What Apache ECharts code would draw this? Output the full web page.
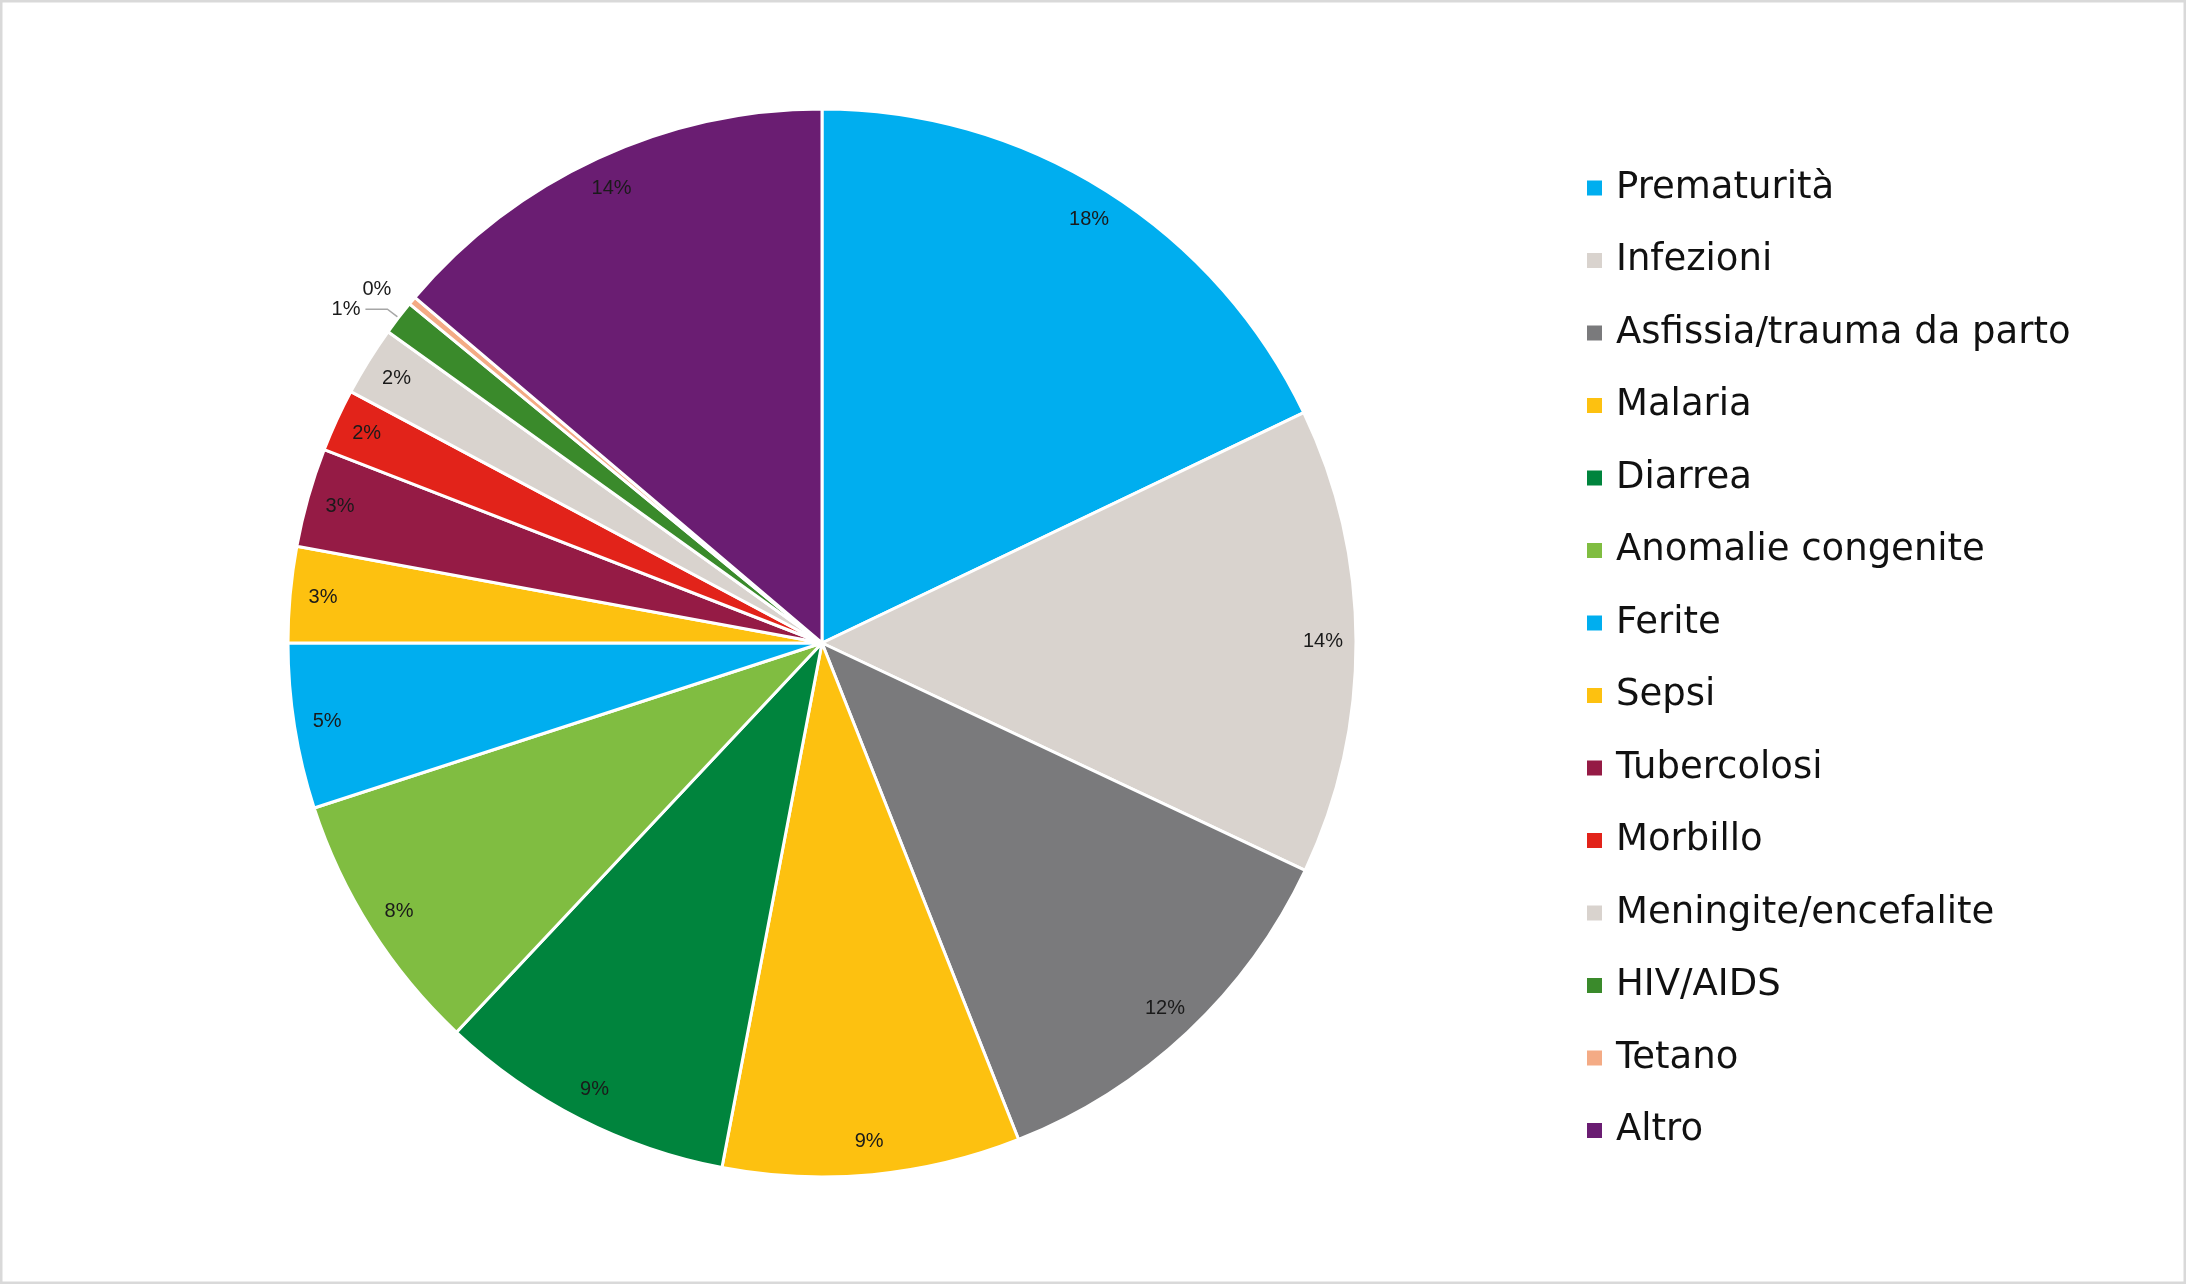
<!DOCTYPE html>
<html>
<head>
<meta charset="utf-8">
<script src="https://cdn.jsdelivr.net/npm/echarts@6/dist/echarts.min.js"></script>
<style>
html,body{margin:0;padding:0;background:#fff;}
#c{width:2186px;height:1284px;}
</style>
</head>
<body>
<div id="c"></div>
<script>
const categories = ['Prematurità','Infezioni','Asfissia/trauma da parto','Malaria','Diarrea','Anomalie congenite','Ferite','Sepsi','Tubercolosi','Morbillo','Meningite/encefalite','HIV/AIDS','Tetano','Altro'];
const values = [17.9, 14.1, 12.0, 9.0, 9.0, 8.0, 5.0, 2.9, 3.0, 1.9, 2.1, 1.05, 0.25, 13.8];
const colors = ['#00aeef','#d9d3ce','#7a7a7c','#fdc110','#00843d','#80bd41','#00aeef','#fdc110','#951b45','#e2231a','#d9d3ce','#3a8a2b','#f4ab85','#6a1d72'];

const chart = echarts.init(document.getElementById('c'), null, {renderer:'canvas'});
const FONT = '"Liberation Sans", Arial, sans-serif';
const LEGEND_FONT = '"DejaVu Sans", sans-serif';
const center = [822, 643];

const pieData = categories.map((n,i)=>({name:n, value:values[i], itemStyle:{color:colors[i]}}));
const labelData = categories.map((n,i)=>{
  const d = {name:n, value:values[i]};
  if (n === 'HIV/AIDS') {
    d.label = {position:'outside', distance:4};
    d.labelLine = {show:true, length:14, length2:22, lineStyle:{color:'#a6a6a6', width:1.5}};
  } else if (n === 'Tetano') {
    d.label = {position:'outside', distance:4};
    d.labelLine = {show:true, length:18, length2:2, lineStyle:{color:'rgba(0,0,0,0)'}};
  }
  return d;
});

chart.setOption({
  animation:false,
  backgroundColor:'#fff',
  graphic:[{type:'rect', shape:{x:1,y:1,width:2184,height:1282}, style:{fill:null, stroke:'#d9d9d9', lineWidth:3}, silent:true}],
  legend:{
    orient:'vertical',
    left:1580,
    top:163,
    itemWidth:17,
    itemHeight:17,
    itemGap:32.5,
    icon:'rect',
    selectedMode:false,
    textStyle:{fontFamily:LEGEND_FONT, fontSize:37, lineHeight:40, color:'#111', padding:[0,0,0,8]},
    data: categories.map((n,i)=>({name:n, itemStyle:{color:colors[i]}}))
  },
  series:[
    {
      type:'pie',
      center:center,
      radius:[0,534],
      startAngle:90,
      clockwise:true,
      avoidLabelOverlap:false,
      label:{show:false},
      labelLine:{show:false},
      itemStyle:{borderColor:'#fff', borderWidth:3},
      emphasis:{disabled:true},
      data:pieData
    },
    {
      type:'pie',
      center:center,
      radius:[462,534],
      startAngle:90,
      clockwise:true,
      silent:true,
      avoidLabelOverlap:false,
      percentPrecision:2,
      itemStyle:{color:'rgba(0,0,0,0)', borderWidth:0},
      label:{show:true, position:'inside', fontFamily:FONT, fontSize:20, color:'#1a1a1a',
        formatter:p=>Math.round(p.percent)+'%'},
      labelLine:{show:false},
      emphasis:{disabled:true},
      data:labelData
    }
  ]
});
</script>
</body>
</html>
